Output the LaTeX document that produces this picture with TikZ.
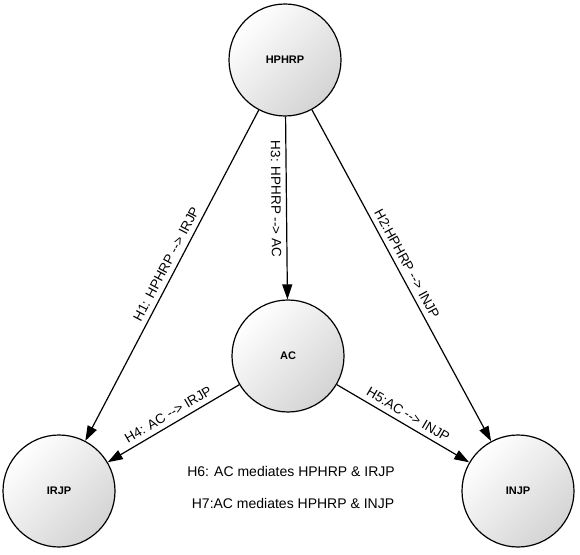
\documentclass[tikz,border=0pt]{standalone}
\usepackage{fontspec}
\setmainfont{Liberation Sans}
\usetikzlibrary{arrows.meta}

\tikzset{every picture/.style={line width=0.75pt}}
\tikzset{
  varnode/.style={circle,draw,line width=1.2pt,minimum size=112pt,inner sep=0pt,top color=white,bottom color=black!17,shading angle=45,font=\fontsize{11}{13}\selectfont\bfseries},
  hyparrow/.style={line width=1.2pt,-{Triangle[length=15pt,width=10pt]}},
  hyptext/.style={font=\fontsize{13.5}{16}\selectfont,sloped,inner sep=5pt},
}
\newcommand{\hyparr}{-\kern0pt-\kern0pt>}

\begin{document}
\begin{tikzpicture}[x=1pt,y=1pt]
	%set diagram size 580 x 554
	\path (0,0) rectangle (580,554);

	%Shape: Circle
	\node[varnode] (hphrp) at (285,494) {HPHRP};
	%Shape: Circle
	\node[varnode] (ac) at (288,198) {AC};
	%Shape: Circle
	\node[varnode] (irjp) at (59,63) {IRJP};
	%Shape: Circle
	\node[varnode] (injp) at (518,63) {INJP};

	%Straight Lines
	\draw[hyparrow] (hphrp) -- node[hyptext,above,pos=0.48] {H1: HPHRP \hyparr{} IRJP} (irjp);
	%Straight Lines
	\draw[hyparrow] (hphrp) -- node[hyptext,above,pos=0.48] {H2:HPHRP \hyparr{} INJP} (injp);
	%Straight Lines
	\draw[hyparrow] (hphrp) -- node[hyptext,below,pos=0.45] {H3: HPHRP \hyparr{} AC} (ac);
	%Straight Lines
	\draw[hyparrow] (ac) -- node[hyptext,above,pos=0.5] {H4: AC \hyparr{} IRJP} (irjp);
	%Straight Lines
	\draw[hyparrow] (ac) -- node[hyptext,above,pos=0.5] {H5:AC \hyparr{} INJP} (injp);

	% Text Node
	\draw (291,83) node[font=\fontsize{14}{16}\selectfont] (h6) {H6: AC mediates HPHRP \& IRJP};
	% Text Node
	\draw (293,51) node[font=\fontsize{14}{16}\selectfont] (h7) {H7:AC mediates HPHRP \& INJP};

\end{tikzpicture}
\end{document}
